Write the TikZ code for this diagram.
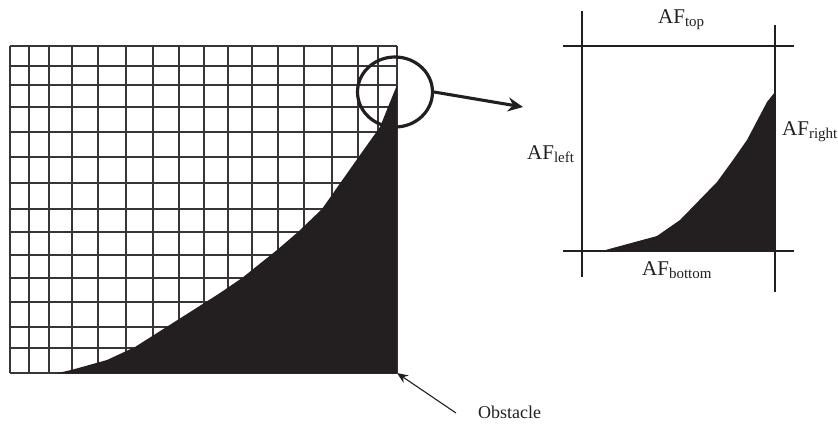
\documentclass[tikz,border=0pt]{standalone}
\usepackage{fontspec}
\setmainfont{Liberation Serif}
\usetikzlibrary{arrows.meta,shapes.geometric}
\definecolor{inkblack}{HTML}{231F20}
\newcommand{\afsub}[1]{{\fontsize{21}{23}\selectfont AF}\raisebox{-3.5pt}{\fontsize{15}{16}\selectfont #1}}

\begin{document}
\begin{tikzpicture}[
    x=1pt, y=-1pt,
    gridline/.style={draw=inkblack!90, line width=1.1pt},
    zoomline/.style={draw=inkblack, line width=1.1pt},
    solid fill/.style={fill=inkblack, draw=none},
    label/.style={inner sep=0pt, anchor=base west, font=\fontsize{18}{20}\selectfont, text=inkblack},
    bigarrow/.style={-{Stealth[length=15pt, width=14pt, inset=5pt]}, draw=inkblack, line width=3.1pt},
    thinarrow/.style={-{Stealth[length=11pt, width=9pt]}, draw=inkblack, line width=1.1pt}
  ]
    \useasboundingbox (0,0) rectangle (838,424);

    % mesh
    \foreach \xline in {10,29,49,72,98,126,153,179,204,228,252,278,304,332,358,378,397}
      \draw[gridline] (\xline,46) -- (\xline,373);
    \foreach \yline in {46,66,85,107,132,157,183,209,232,255,278,302,327,348,373}
      \draw[gridline] (10,\yline) -- (397,\yline);

    % obstacle
    \fill[solid fill] (56,373.5) -- (73,369.5) -- (107,360) -- (135,347) -- (220,293) -- (242,278)
      -- (277,250) -- (298,232) -- (322,209) -- (360,155) -- (380,127) -- (388,107) -- (397,85) -- (397,373.5) -- cycle;

    % close-up
    \draw[zoomline] (582,11) -- (582,277);
    \draw[zoomline] (775,25) -- (775,292);
    \draw[zoomline] (563,46) -- (794,46);
    \draw[zoomline] (563,251) -- (794,251);
    \fill[solid fill] (600,251.5) -- (657,236) -- (680,220) -- (717,182) -- (733,160) -- (747,140)
      -- (767,102) -- (775,92) -- (775,251.5) -- cycle;

    \node[label] (top) at (658,23) {\afsub{top}};
    \node[label] (left) at (527,159) {\afsub{left}};
    \node[label] (right) at (782,135) {\afsub{right}};
    \node[label] (bottom) at (642,275) {\afsub{bottom}};

    % pointers
    \node[ellipse, draw=inkblack, line width=3.2pt, minimum width=75pt, minimum height=70pt, inner sep=0pt] (lens) at (395,92) {};
    \coordinate (closeup) at (523,107);
    \draw[bigarrow] (lens.east) -- (closeup);

    \node[label] (obstacle) at (478,418) {Obstacle};
    \coordinate (foot) at (456,413);
    \coordinate (corner) at (397,373);
    \draw[thinarrow] (foot) -- (corner);
  \end{tikzpicture}
\end{document}
